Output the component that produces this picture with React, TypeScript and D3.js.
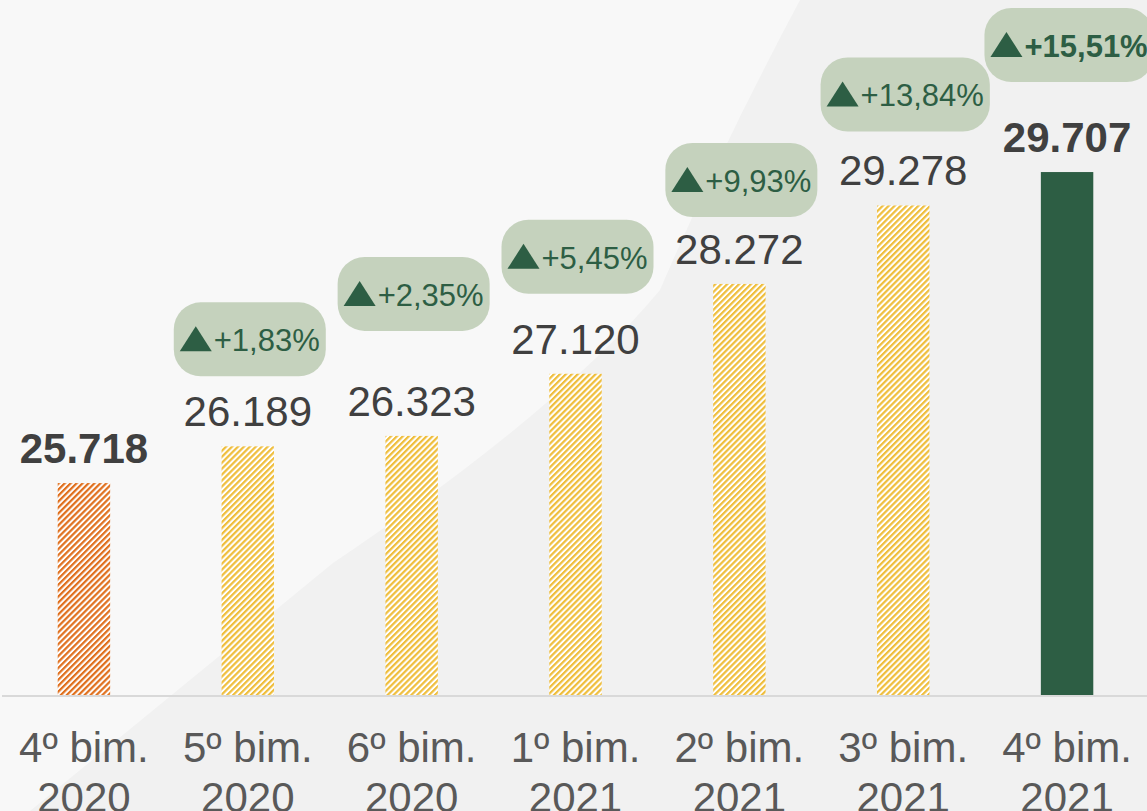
import * as d3 from "d3";
import { useEffect, useRef } from "react";

// periods on the x axis (two lines each)
const periods = ["4º bim.", "5º bim.", "6º bim.", "1º bim.", "2º bim.", "3º bim.", "4º bim."];
const years = ["2020", "2020", "2020", "2021", "2021", "2021", "2021"];
// bar values
const totals = [25718, 26189, 26323, 27120, 28272, 29278, 29707];
// growth vs first period, in %
const growth = [null, 1.83, 2.35, 5.45, 9.93, 13.84, 15.51];

const W = 1147;
const H = 811;
const baseY = 695;

const fills = [
  "url(#hatchOrange)",
  "url(#hatchYellow)",
  "url(#hatchYellow)",
  "url(#hatchYellow)",
  "url(#hatchYellow)",
  "url(#hatchYellow)",
  "#2d5e44",
];
const boldLabel = [true, false, false, false, false, false, true];
// how far each badge centre sits above its bar top (hand placed in the original)
const badgeLift = [0, 107, 142, 117, 104, 111, 127];

const ptBR = d3.formatLocale({
  decimal: ",",
  thousands: ".",
  grouping: [3],
  currency: ["R$", ""],
});
const fmtInt = ptBR.format(",d");
const fmtPct = ptBR.format("+.2f");

export default function App() {
  const ref = useRef<SVGSVGElement>(null);

  useEffect(() => {
    const svg = d3.select(ref.current);
    svg.selectAll("*").remove();

    const font = "'Liberation Sans', Arial, sans-serif";

    // hatch patterns
    const defs = svg.append("defs");
    const hatch = (id: string, color: string) => {
      const p = defs
        .append("pattern")
        .attr("id", id)
        .attr("patternUnits", "userSpaceOnUse")
        .attr("width", 4.2)
        .attr("height", 4.2)
        .attr("patternTransform", "rotate(45)");
      p.append("rect").attr("width", 4.2).attr("height", 4.2).attr("fill", "#ffffff");
      p.append("rect").attr("width", 2.2).attr("height", 4.2).attr("fill", color);
    };
    hatch("hatchOrange", "#e0701e");
    hatch("hatchYellow", "#efbe3c");

    // background
    svg.append("rect").attr("width", W).attr("height", H).attr("fill", "#f8f8f8");
    svg
      .append("path")
      .attr("d", "M30,811 L333,563 Q560,410 660,290 Q720,150 800,0 L1147,0 L1147,811 Z")
      .attr("fill", "#f1f1f1");

    const x = d3
      .scaleBand<number>()
      .domain(d3.range(totals.length))
      .range([2, W + 2])
      .paddingInner(0.68)
      .paddingOuter(0.34);

    const y = d3.scaleLinear().domain([23000, 30000]).range([baseY, baseY - 545.8]);

    // axis line
    svg
      .append("line")
      .attr("x1", 2)
      .attr("x2", W)
      .attr("y1", baseY + 1)
      .attr("y2", baseY + 1)
      .attr("stroke", "#d9d9d9")
      .attr("stroke-width", 2);

    // bars
    svg
      .selectAll("rect.bar")
      .data(totals)
      .enter()
      .append("rect")
      .attr("class", "bar")
      .attr("x", (_, i) => x(i)!)
      .attr("width", x.bandwidth())
      .attr("y", (d) => y(d))
      .attr("height", (d) => baseY - y(d))
      .attr("fill", (_, i) => fills[i]);

    // value labels
    svg
      .selectAll("text.val")
      .data(totals)
      .enter()
      .append("text")
      .attr("class", "val")
      .attr("x", (_, i) => x(i)! + x.bandwidth() / 2)
      .attr("y", (d) => y(d) - 20)
      .attr("text-anchor", "middle")
      .attr("font-family", font)
      .attr("font-size", 42)
      .attr("font-weight", (_, i) => (boldLabel[i] ? "bold" : "normal"))
      .attr("fill", "#404040")
      .text((d) => fmtInt(d));

    // x labels
    const xl = svg
      .selectAll("text.xl")
      .data(periods)
      .enter()
      .append("text")
      .attr("class", "xl")
      .attr("text-anchor", "middle")
      .attr("font-family", font)
      .attr("font-size", 42)
      .attr("fill", "#595959");
    xl.append("tspan")
      .attr("x", (_, i) => x(i)! + x.bandwidth() / 2)
      .attr("y", 762)
      .text((d) => d);
    xl.append("tspan")
      .attr("x", (_, i) => x(i)! + x.bandwidth() / 2)
      .attr("y", 812)
      .text((_, i) => years[i]);

    // growth badges
    growth.forEach((g, i) => {
      if (g == null) return;
      const cx = x(i)! + x.bandwidth() / 2 + 2;
      const cy = y(totals[i]) - badgeLift[i];
      const grp = svg.append("g");
      const rect = grp.append("rect");
      const txt = grp
        .append("text")
        .attr("font-family", font)
        .attr("font-size", 31)
        .attr("font-weight", i === growth.length - 1 ? "bold" : "normal")
        .attr("fill", "#2d5e44")
        .text(fmtPct(g) + "%");
      const tw = (txt.node() as SVGTextElement).getComputedTextLength();
      const triW = 32;
      const triH = 25;
      const content = triW + 2 + tw;
      const bw = content + 12;
      const bh = 74;
      const left = cx - content / 2;
      const base = cy + 12;
      rect
        .attr("x", cx - bw / 2)
        .attr("y", cy - bh / 2)
        .attr("width", bw)
        .attr("height", bh)
        .attr("rx", 27)
        .attr("fill", "#c5d2bd");
      grp
        .append("path")
        .attr(
          "d",
          `M${left},${base} L${left + triW / 2},${base - triH} L${left + triW},${base} Z`
        )
        .attr("fill", "#2d5e44");
      txt.attr("x", left + triW + 2).attr("y", base);
    });
  }, []);

  return (
    <svg
      ref={ref}
      width={W}
      height={H}
      style={{ position: "absolute", left: 0, top: 0, display: "block" }}
    />
  );
}
